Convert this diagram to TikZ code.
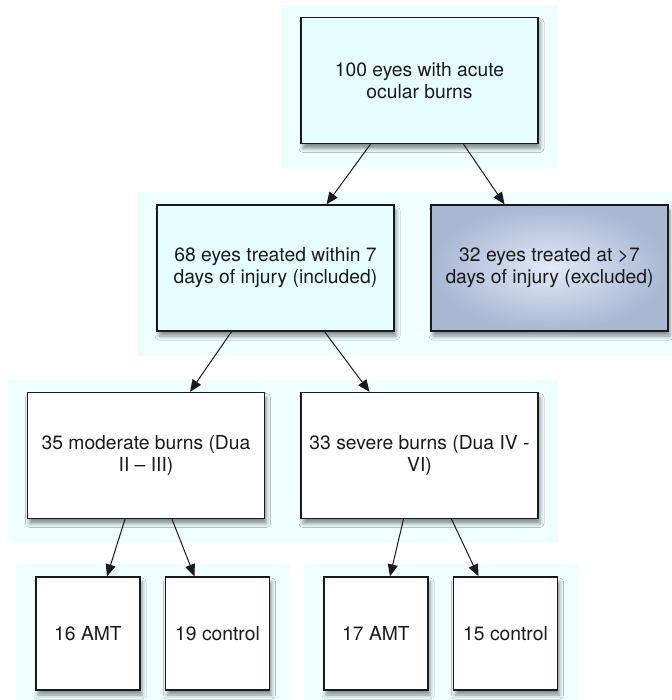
\documentclass[tikz,border=0pt]{standalone}
\usepackage{fontspec}
\setmainfont{TeX Gyre Heros}
\usepackage{tikz}
\usetikzlibrary{arrows.meta,backgrounds,shadows.blur}
\definecolor{panelcyan}{HTML}{EFFFFF}
\definecolor{boxcyan}{HTML}{E6FEFF}
\definecolor{exclin}{HTML}{E0E9F8}
\definecolor{exclout}{HTML}{A9B7D3}
\definecolor{inkblack}{HTML}{1A1A1A}

\begin{document}
\begin{tikzpicture}[x=1bp, y=-1bp,
    every node/.style={font=\fontsize{19.3bp}{22bp}\selectfont, text=inkblack},
    flowbox/.style={rectangle, draw=inkblack, line width=1.3bp, align=center,
        minimum width=237bp, minimum height=126bp, inner sep=0pt,
        blur shadow={shadow xshift=2bp, shadow yshift=-5bp,
            shadow blur radius=4bp, shadow opacity=45}},
    armbox/.style={flowbox, minimum width=104bp, minimum height=113bp},
    panel/.style={fill=panelcyan},
    arr/.style={line width=1bp, inkblack, -{Triangle[length=12bp, width=10bp]}},
]
\useasboundingbox (0,0) rectangle (672,700);

% Screening
\node[flowbox, fill=boxcyan] (top) at (419.5,80.5) {100 eyes with acute\\ocular burns};

% Inclusion
\node[flowbox, fill=boxcyan] (incl) at (275.5,268) {68 eyes treated within 7\\days of injury (included)};
\node[flowbox, inner color=exclin, outer color=exclout] (excl) at (549.5,268)
    {32 eyes treated at >7\\days of injury (excluded)};

% Severity groups
\node[flowbox, fill=white] (mod) at (146,455.5) {35 moderate burns (Dua\\II – III)};
\node[flowbox, fill=white] (sev) at (419.5,455.5) {33 severe burns (Dua IV -\\VI)};

% Treatment arms
\node[armbox, fill=white] (amtA) at (88,633.5) {16 AMT};
\node[armbox, fill=white] (ctrlA) at (217.5,633.5) {19 control};
\node[armbox, fill=white] (amtB) at (376,633.5) {17 AMT};
\node[armbox, fill=white] (ctrlB) at (505.5,633.5) {15 control};

% Row panels
\begin{scope}[on background layer]
\foreach \a/\b in {top/top, incl/excl, mod/sev, amtA/ctrlA, amtB/ctrlB} {
    \fill[panel] ([shift={(-19,-12)}]\a.north west) rectangle ([shift={(19,24)}]\b.south east);
}
\end{scope}

% Arrows
\draw[arr] ([xshift=-49bp]top.south) -- ([xshift=51bp]incl.north);
\draw[arr] ([xshift=44bp]top.south) -- ([xshift=-45bp]excl.north);
\draw[arr] ([xshift=-44bp]incl.south) -- ([xshift=44bp]mod.north);
\draw[arr] ([xshift=49bp]incl.south) -- ([xshift=-50bp]sev.north);
\draw[arr] ([xshift=-21bp]mod.south) -- ([xshift=19bp]amtA.north);
\draw[arr] ([xshift=26bp]mod.south) -- ([xshift=-23bp]ctrlA.north);
\draw[arr] ([xshift=-16bp]sev.south) -- ([xshift=14bp]amtB.north);
\draw[arr] ([xshift=32bp]sev.south) -- ([xshift=-27bp]ctrlB.north);

\end{tikzpicture}
\end{document}
